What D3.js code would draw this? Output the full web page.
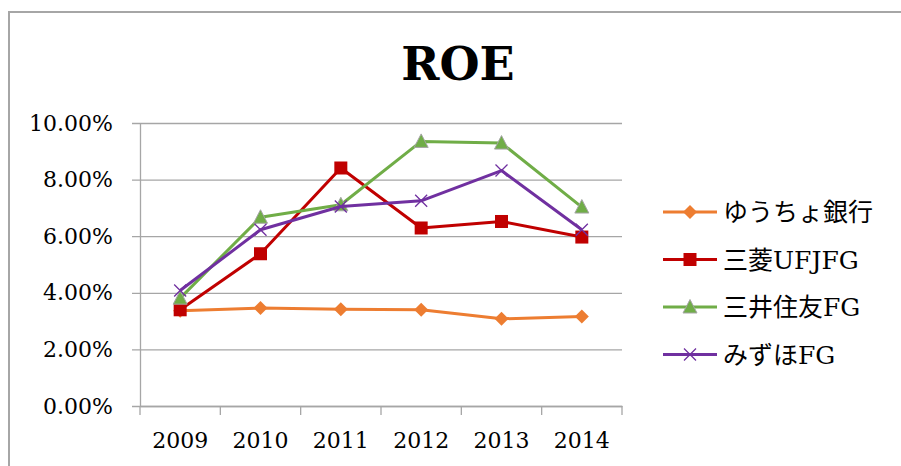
<!DOCTYPE html>
<html>
<head>
<meta charset="utf-8">
<script src="https://cdn.jsdelivr.net/npm/d3@7"></script>
<style>
  html, body { margin: 0; padding: 0; background: #fff; }
  svg { display: block; }
</style>
</head>
<body>
<svg id="chart" width="901" height="466"></svg>
<script>
// data
const years = ['2009', '2010', '2011', '2012', '2013', '2014'];
const yuchoValues = [3.37, 3.46, 3.42, 3.40, 3.08, 3.16];
const mufgValues = [3.40, 5.38, 8.41, 6.29, 6.52, 5.97];
const smfgValues = [3.81, 6.67, 7.11, 9.35, 9.29, 7.03];
const mizuhoValues = [4.08, 6.23, 7.05, 7.25, 8.32, 6.23];
const seriesNames = ['ゆうちょ銀行', '三菱UFJFG', '三井住友FG', 'みずほFG'];
const yTicks = [0, 2, 4, 6, 8, 10];

const series = [
  { name: seriesNames[0], values: yuchoValues, color: '#ED7D31', marker: 'diamond' },
  { name: seriesNames[1], values: mufgValues, color: '#C00000', marker: 'square' },
  { name: seriesNames[2], values: smfgValues, color: '#70AD47', marker: 'triangle' },
  { name: seriesNames[3], values: mizuhoValues, color: '#7030A0', marker: 'cross' }
];

const svg = d3.select('#chart');
const font = "'DejaVu Serif', 'Liberation Serif', serif";
const jpFont = "'DejaVu Serif', 'Noto Sans CJK JP', serif";

// outer frame (only left + top edges are visible in the crop)
svg.append('path')
  .attr('d', 'M9,466 V12 H901')
  .attr('fill', 'none')
  .attr('stroke', '#a6a6a6')
  .attr('stroke-width', 2);

const plot = { left: 140, right: 622, top: 123, bottom: 406 };

const x = d3.scaleBand().domain(years).range([plot.left, plot.right]);
const y = d3.scaleLinear().domain([0, 10]).range([plot.bottom, plot.top]);

// title
svg.append('text')
  .attr('x', 458).attr('y', 80)
  .attr('text-anchor', 'middle')
  .style('font-family', font)
  .style('font-weight', 'bold')
  .style('font-size', '46px')
  .text('ROE');

// gridlines (extend left past the axis as tick marks)
const gy = svg.append('g')
  .attr('transform', `translate(${plot.right},0)`)
  .call(d3.axisLeft(y).tickValues(yTicks).tickSize(plot.right - plot.left + 8).tickFormat(''));
gy.select('.domain').remove();
gy.selectAll('line').attr('stroke', '#a6a6a6').attr('stroke-width', 1.3);

// y axis labels
const gyl = svg.append('g')
  .attr('transform', `translate(${plot.left},0)`)
  .call(d3.axisLeft(y).tickValues(yTicks).tickSize(0).tickPadding(27)
    .tickFormat(d => d.toFixed(2) + '%'));
gyl.select('.domain').attr('stroke', '#a6a6a6').attr('stroke-width', 1.3);
gyl.selectAll('text')
  .style('font-family', font)
  .style('font-size', '22px')
  .attr('fill', '#000');

// x axis: ticks sit on band edges
const gx = svg.append('g')
  .attr('transform', `translate(0,${plot.bottom})`)
  .call(d3.axisBottom(x).tickSize(0).tickPadding(26));
gx.select('.domain').attr('stroke', '#a6a6a6').attr('stroke-width', 1.3);
gx.selectAll('text')
  .style('font-family', font)
  .style('font-size', '22px')
  .attr('fill', '#000');
const edges = years.map(d => x(d)).concat([plot.right]);
gx.selectAll('.edge').data(edges).enter().append('line')
  .attr('class', 'edge')
  .attr('x1', d => d).attr('x2', d => d)
  .attr('y1', 0).attr('y2', 9)
  .attr('stroke', '#a6a6a6').attr('stroke-width', 1.3);

// markers
function drawMarker(g, type, color) {
  if (type === 'diamond') {
    g.append('path').attr('d', 'M0,-7 L7,0 L0,7 L-7,0 Z').attr('fill', color);
  } else if (type === 'square') {
    g.append('rect').attr('x', -6.5).attr('y', -6.5).attr('width', 13).attr('height', 13)
      .attr('fill', color);
  } else if (type === 'triangle') {
    g.append('path').attr('d', 'M0,-7.5 L7,6 L-7,6 Z').attr('fill', color)
      .attr('stroke', '#a5a5a5').attr('stroke-width', 1);
  } else {
    g.append('path').attr('d', 'M-6,-6 L6,6 M-6,6 L6,-6').attr('stroke', color)
      .attr('stroke-width', 1.3).attr('fill', 'none');
  }
}

const line = d3.line()
  .x((d, i) => x(years[i]) + x.bandwidth() / 2)
  .y(d => y(d));

series.forEach(s => {
  svg.append('path')
    .datum(s.values)
    .attr('d', line)
    .attr('fill', 'none')
    .attr('stroke', s.color)
    .attr('stroke-width', 3)
    .attr('stroke-linejoin', 'round');
  s.values.forEach((v, i) => {
    const g = svg.append('g')
      .attr('transform', `translate(${x(years[i]) + x.bandwidth() / 2},${y(v)})`);
    drawMarker(g, s.marker, s.color);
  });
});

// legend
const legend = svg.append('g').attr('transform', 'translate(663,212)');
series.forEach((s, i) => {
  const row = legend.append('g').attr('transform', `translate(0,${i * 47.5})`);
  row.append('line').attr('x1', 0).attr('x2', 54).attr('y1', 0).attr('y2', 0)
    .attr('stroke', s.color).attr('stroke-width', 3);
  drawMarker(row.append('g').attr('transform', 'translate(27,0)'), s.marker, s.color);
  row.append('text')
    .attr('x', 60).attr('y', 0).attr('dy', '0.36em')
    .style('font-family', jpFont)
    .style('font-size', '25px')
    .text(s.name);
});
</script>
</body>
</html>
